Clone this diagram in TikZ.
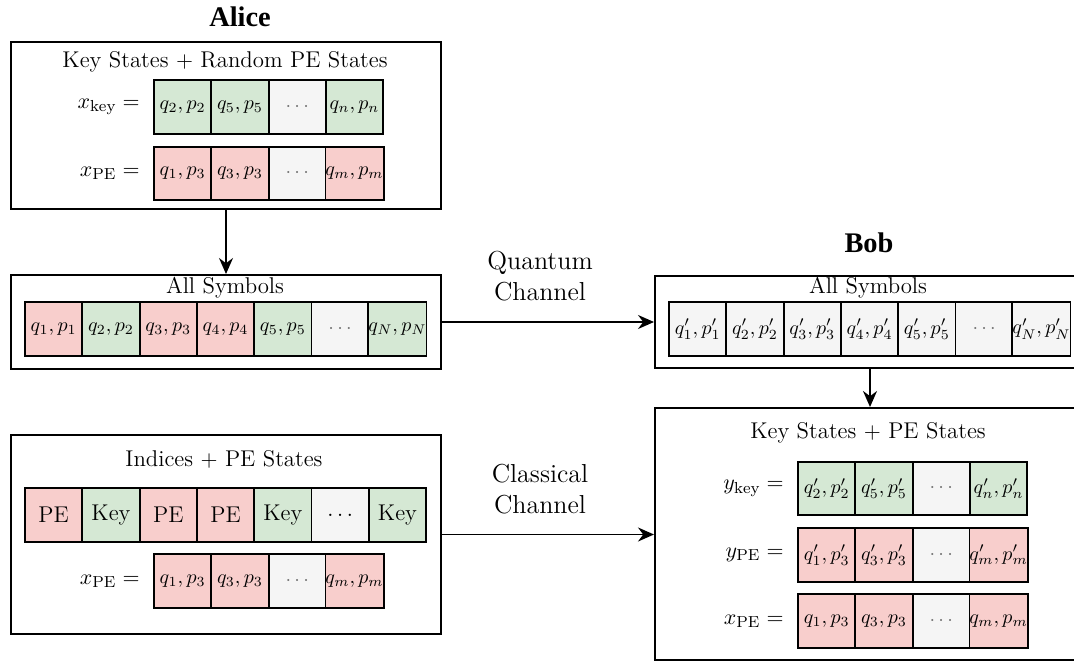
\documentclass[tikz,border=0pt]{standalone}
\usepackage{fontspec}
\newfontfamily\headfont{Liberation Serif}
\usetikzlibrary{arrows.meta}

\definecolor{keyfill}{HTML}{D5E8D4}
\definecolor{pefill}{HTML}{F8CECC}
\definecolor{dotfill}{HTML}{F5F5F5}

\tikzset{
  frame/.style={draw, line width=1pt, inner sep=0pt},
  cell/.style={draw, line width=0.9pt, minimum width=28.65pt, minimum height=26.75pt,
    inner sep=0pt, font=\fontsize{9.6}{11}\selectfont},
  bigcell/.style={cell, font=\fontsize{11.4}{13}\selectfont},
  boxtitle/.style={inner sep=0pt, font=\fontsize{11.4}{13.5}\selectfont},
  rowlabel/.style={inner sep=0pt, anchor=east, font=\fontsize{11.4}{13.5}\selectfont},
  party/.style={inner sep=0pt, font=\headfont\bfseries\fontsize{14.2}{16}\selectfont},
  chanlabel/.style={inner sep=0pt, align=center, font=\fontsize{13}{15.5}\selectfont},
  conn/.style={line width=0.9pt, -{Stealth[length=8pt, width=7pt]}}
}

% a row of equal cells: name prefix, left edge, centre y, list of fill/text
\newcommand\cellrow[5][cell]{%
  \foreach \f/\t [count=\i] in {#5} {%
    \node[#1, fill=\f] (#2\i) at ({#3+57.3*(\i-0.5)},#4) {\t};
  }%
}
\newcommand\gdots{\textcolor{black!55}{$\cdots$}}

\begin{document}
\begin{tikzpicture}[x=0.5pt, y=-0.5pt]
  \clip (0,0) rectangle (1074,662);

  % parties
  \node[party] (alice) at (240,17) {Alice};
  \node[party] (bob) at (869,243) {Bob};

  % Alice: key states and random PE states
  \node[frame, minimum width=215pt, minimum height=83.5pt] (a1) at (226,125.5) {};
  \node[boxtitle] (a1t) at (225,62) {Key States $+$ Random PE States};
  \node[rowlabel] (a1k) at (140,107) {$x_{\mathrm{key}} =$};
  \cellrow{ak}{154}{107}{keyfill/{$q_2,p_2$}, keyfill/{$q_5,p_5$}, dotfill/{\gdots}, keyfill/{$q_n,p_n$}}
  \node[rowlabel] (a1p) at (140,173.5) {$x_{\mathrm{PE}} =$};
  \cellrow{ap}{154}{173.5}{pefill/{$q_1,p_3$}, pefill/{$q_3,p_3$}, dotfill/{\gdots}, pefill/{$q_m,p_m$}}

  % Alice: all symbols
  \node[frame, minimum width=215pt, minimum height=47pt] (a2) at (226,322) {};
  \node[boxtitle] (a2t) at (225,288) {All Symbols};
  \cellrow{as}{25}{329}{pefill/{$q_1,p_1$}, keyfill/{$q_2,p_2$}, pefill/{$q_3,p_3$}, pefill/{$q_4,p_4$}, keyfill/{$q_5,p_5$}, dotfill/{\gdots}, keyfill/{$q_N,p_N$}}

  % Alice: indices and PE states
  \node[frame, minimum width=215pt, minimum height=99.5pt] (a3) at (226,534.5) {};
  \node[boxtitle] (a3t) at (224,459) {Indices $+$ PE States};
  \cellrow[bigcell]{ai}{25}{515}{pefill/PE, keyfill/Key, pefill/PE, pefill/PE, keyfill/Key, dotfill/{$\ldots$}, keyfill/Key}
  \node[rowlabel] (a3p) at (140,581) {$x_{\mathrm{PE}} =$};
  \cellrow{aq}{154}{581}{pefill/{$q_1,p_3$}, pefill/{$q_3,p_3$}, dotfill/{\gdots}, pefill/{$q_m,p_m$}}

  % Bob: all symbols
  \node[frame, minimum width=215pt, minimum height=46pt] (b1) at (870,322) {};
  \node[boxtitle] (b1t) at (868,288) {All Symbols};
  \cellrow{bs}{669}{329}{dotfill/{$q'_1,p'_1$}, dotfill/{$q'_2,p'_2$}, dotfill/{$q'_3,p'_3$}, dotfill/{$q'_4,p'_4$}, dotfill/{$q'_5,p'_5$}, dotfill/{\gdots}, dotfill/{$q'_N,p'_N$}}

  % Bob: key states and PE states
  \node[frame, minimum width=215pt, minimum height=126pt] (b2) at (870,534) {};
  \node[boxtitle] (b2t) at (868,433) {Key States $+$ PE States};
  \node[rowlabel] (b2k) at (784,488.5) {$y_{\mathrm{key}} =$};
  \cellrow{bk}{798}{488.5}{keyfill/{$q'_2,p'_2$}, keyfill/{$q'_5,p'_5$}, dotfill/{\gdots}, keyfill/{$q'_n,p'_n$}}
  \node[rowlabel] (b2y) at (784,555) {$y_{\mathrm{PE}} =$};
  \cellrow{by}{798}{555}{pefill/{$q'_1,p'_3$}, pefill/{$q'_3,p'_3$}, dotfill/{\gdots}, pefill/{$q'_m,p'_m$}}
  \node[rowlabel] (b2x) at (784,621) {$x_{\mathrm{PE}} =$};
  \cellrow{bx}{798}{621}{pefill/{$q_1,p_3$}, pefill/{$q_3,p_3$}, dotfill/{\gdots}, pefill/{$q_m,p_m$}}

  % connectors
  \draw[conn] (a1.south) -- (a2.north);
  \draw[conn] (b1.south) -- (b2.north);
  \draw[conn] (a2.east) -- (b1.west);
  \draw[conn] (a3.east) -- (a3.east -| b2.west);

  % channel labels
  \node[chanlabel] (qch) at (540,276.5) {Quantum\\Channel};
  \node[chanlabel] (cch) at (540,489) {Classical\\Channel};
\end{tikzpicture}
\end{document}
